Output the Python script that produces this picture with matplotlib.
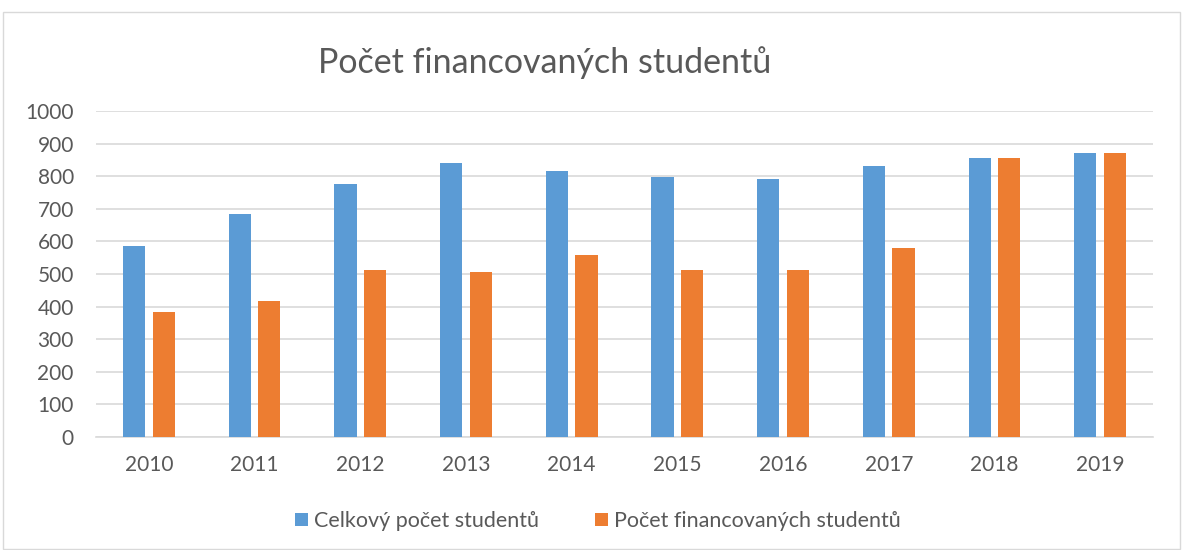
import matplotlib
matplotlib.use("Agg")
import matplotlib.pyplot as plt
import numpy as np
from matplotlib.patches import Rectangle

years = ["2010", "2011", "2012", "2013", "2014", "2015", "2016", "2017", "2018", "2019"]
celkovy = [587, 684, 776, 842, 815, 797, 791, 831, 857, 872]
financovany = [384, 416, 512, 507, 559, 511, 511, 581, 857, 872]
series_names = ["Celkový počet studentů", "Počet financovaných studentů"]
title = "Počet financovaných studentů"

plt.rcParams['font.family'] = ['Lato', 'DejaVu Sans']

W, H = 1186, 550
fig = plt.figure(figsize=(W / 100, H / 100), dpi=100)
fig.patch.set_facecolor("white")

# outer chart border
fig.patches.append(Rectangle((3 / W, 0.002), (1180 - 3) / W, (H - 12) / H - 0.002,
                             transform=fig.transFigure, fill=False,
                             edgecolor="#d9d9d9", linewidth=1.0))

left, right, top, bottom = 96, 1153, 111, 437
ax = fig.add_axes([left / W, 1 - bottom / H, (right - left) / W, (bottom - top) / H])

x = np.arange(len(years))
bw = 0.21
off = 0.14
blue = "#5b9bd5"
orange = "#ed7d31"
ax.bar(x - off, celkovy, width=bw, color=blue, label=series_names[0], zorder=3)
ax.bar(x + off, financovany, width=bw, color=orange, label=series_names[1], zorder=3)

ax.set_xlim(-0.5, len(years) - 0.5)
ax.set_ylim(0, 1000)
ax.set_yticks(range(0, 1001, 100))
ax.set_xticks(x)
ax.set_xticklabels(years)
ax.grid(axis="y", color="#d9d9d9", linewidth=1.2, zorder=0)
ax.set_axisbelow(True)
for s in ["top", "right", "left"]:
    ax.spines[s].set_visible(False)
ax.spines["bottom"].set_color("#d9d9d9")
ax.spines["bottom"].set_linewidth(1.2)
ax.tick_params(axis="both", length=0, labelsize=15, labelcolor="#595959")
ax.tick_params(axis="y", pad=16)
ax.tick_params(axis="x", pad=13)

fig.text(545 / W, 1 - 63 / H, title, ha="center", va="center",
         fontsize=24.5, color="#595959")

leg = fig.legend(loc="center", bbox_to_anchor=(598 / W, 1 - 521 / H), ncol=2,
                 frameon=False, fontsize=15.5, handlelength=0.6, handleheight=0.6,
                 handletextpad=0.3, columnspacing=2.6)
for t in leg.get_texts():
    t.set_color("#595959")

fig.savefig("out.png", dpi=100, facecolor="white")
